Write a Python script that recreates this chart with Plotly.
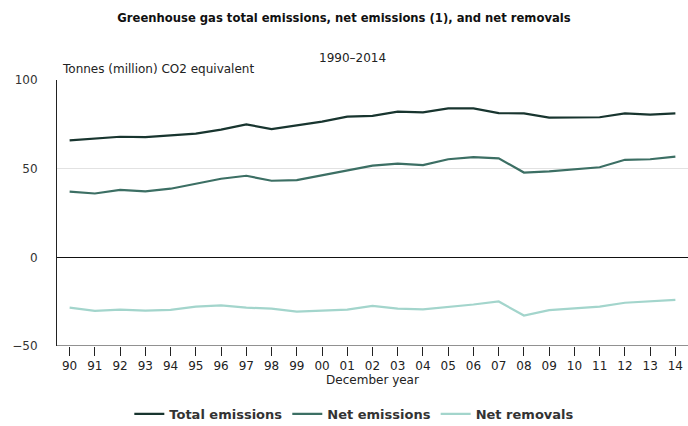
import plotly.graph_objects as go

years = ["90", "91", "92", "93", "94", "95", "96", "97", "98", "99", "00", "01", "02",
         "03", "04", "05", "06", "07", "08", "09", "10", "11", "12", "13", "14"]
total_emissions = [66.0, 67.0, 68.0, 67.8, 69.0, 69.8, 72.0, 75.0, 72.3, 74.5, 76.5, 79.3, 79.8,
                   82.2, 81.7, 84.0, 84.0, 81.3, 81.2, 78.8, 79.0, 79.0, 81.2, 80.5, 81.2]
net_emissions = [37.0, 36.0, 38.0, 37.2, 38.7, 41.5, 44.3, 46.0, 43.2, 43.5, 46.2, 49.3, 51.7,
                 52.8, 52.0, 55.3, 56.5, 55.8, 47.8, 48.5, 49.7, 50.8, 55.0, 55.3, 56.8]
net_removals = [-28.4, -30.2, -29.5, -30.0, -29.6, -27.8, -27.1, -28.4, -28.9, -30.6, -30.0, -29.5, -27.4,
                -28.9, -29.3, -28.0, -26.6, -24.9, -32.8, -29.8, -28.9, -27.8, -25.6, -24.6, -24.0]

series = [
    ("Total emissions", total_emissions, "#18352f"),
    ("Net emissions", net_emissions, "#3c6f64"),
    ("Net removals", net_removals, "#a3d5cc"),
]

W, H = 688, 426
L, R, T, B = 57, 0, 80, 80
PW, PH = W - L - R, H - T - B
FONT = "DejaVu Sans, Verdana, sans-serif"


def px_x(px):
    return (px - L) / PW


def px_y(py):
    return (H - B - py) / PH


fig = go.Figure()
for name, vals, col in series:
    fig.add_trace(go.Scatter(x=years, y=vals, name=name, mode="lines",
                             line=dict(color=col, width=2.2)))

fig.update_layout(
    width=W, height=H,
    margin=dict(l=L, r=R, t=T, b=B, autoexpand=False),
    paper_bgcolor="white", plot_bgcolor="white",
    font=dict(family=FONT, size=12, color="#333"),
    showlegend=True,
    legend=dict(orientation="h", xref="container", yref="container",
                x=0.515, xanchor="center", y=1 - 414 / H, yanchor="middle",
                font=dict(family=FONT, size=13, color="#333", weight="bold"),
                itemwidth=30),
    title=dict(text="<b>Greenhouse gas total emissions, net emissions (1), and net removals</b>",
               x=0.5, xref="container", xanchor="center",
               y=1 - 18 / H, yref="container", yanchor="middle",
               font=dict(family=FONT, size=11.6, color="#111")),
)

fig.update_xaxes(type="category", range=[-0.5, 24.5], showgrid=False,
                 ticks="outside", ticklen=9, tickcolor="#222", tickwidth=1,
                 showline=False, zeroline=False, automargin=False,
                 tickfont=dict(family=FONT, size=12, color="#222"),
                 title=dict(text="December year", font=dict(family=FONT, size=12, color="#222"),
                            standoff=2))

fig.update_yaxes(range=[-50, 100], tickvals=[-50, 0, 50, 100],
                 showgrid=True, gridcolor="#e2e2e2", gridwidth=1,
                 zeroline=True, zerolinecolor="#111", zerolinewidth=1,
                 showline=True, linecolor="#222", linewidth=1, automargin=False,
                 ticks="", ticklabelstandoff=16,
                 tickfont=dict(family=FONT, size=12, color="#333"))

# x axis base line at -50
fig.add_shape(type="line", xref="paper", yref="y", x0=0, x1=1, y0=-50, y1=-50,
              line=dict(color="#222", width=1))

fig.add_annotation(text="1990\u20132014", xref="paper", yref="paper",
                   x=px_x(352), y=px_y(58), xanchor="center", yanchor="middle",
                   showarrow=False, font=dict(family=FONT, size=12, color="#222"))
fig.add_annotation(text="Tonnes (million) CO2 equivalent", xref="paper", yref="paper",
                   x=px_x(60), y=px_y(69), xanchor="left", yanchor="middle",
                   showarrow=False, font=dict(family=FONT, size=12, color="#222"))

fig.write_html("out.html", config={"displayModeBar": False},
               post_script="document.body.style.margin='0';")
